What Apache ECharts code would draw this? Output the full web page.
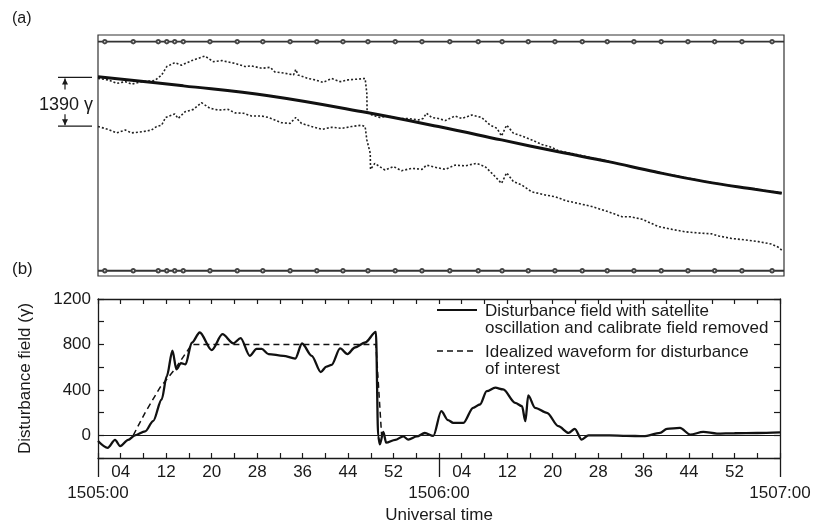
<!DOCTYPE html>
<html><head><meta charset="utf-8">
<script src="https://cdn.jsdelivr.net/npm/echarts@6/dist/echarts.min.js"></script>
<style>html,body{margin:0;padding:0;background:#fff}#c{width:814px;height:525px}</style>
</head><body><div id="c"></div>
<script>
// ---------- Panel (a): raw magnetometer traces (time in s after 1505:00, field in γ, relative) ----------
const aSolidTime  = [0, 15, 30, 47.3, 59.9, 71.0, 81.0, 89.8, 98.0, 106.8, 115.6, 120.3];
const aSolidField = [5680, 5420, 5140, 4660, 4260, 3880, 3540, 3260, 2970, 2690, 2470, 2360];

const aUpperTime  = [0,1.8,3.3,4.8,5.9,7.7,10.0,11.2,12.1,13.5,14.7,16.5,18.8,20.3,21.8,24.1,25.9,27.0,28.8,30.3,31.1,32.9,34.4,34.8,35.2,37.0,38.2,39.6,41.1,42.6,44.0,45.5,47.0,47.3,47.35,48.2,49.6,51.1,52.8,54.6,56.4,57.2,57.8,58.7,59.9,61.1,62.8,64.0,65.8,67.5,69.0,70.2,71.0,71.9,73.1,74.6,76.3,78.1,79.8,81.0,84.8,89.8,95.0,101.0,107.0,113.0,120.3];
const aUpperField = [5630,5590,5490,5540,5470,5540,5570,5730,5970,6080,6010,6140,6270,6110,6140,6060,5970,5990,5920,5950,5820,5780,5730,5890,5730,5630,5590,5520,5630,5540,5590,5610,5630,5210,4680,4590,4520,4560,4490,4490,4450,4490,4640,4520,4490,4430,4560,4490,4590,4520,4300,4210,3990,4300,4070,3990,3880,3750,3670,3570,3440,3270,3070,2880,2690,2530,2370];

const aLowerTime  = [0,1.8,3.3,4.8,5.9,7.7,9.4,10.3,11.2,11.9,13.5,14.1,15.3,16.8,18.2,19.7,21.2,22.9,24.1,25.6,27.0,28.8,30.0,30.8,32.3,33.8,34.8,35.8,37.6,39.4,41.1,42.9,44.6,46.4,47.0,47.3,47.9,47.95,48.7,50.5,52.0,53.4,55.2,57.0,57.8,59.3,61.1,62.8,64.6,66.6,68.1,69.6,71.0,71.9,73.1,74.6,76.3,78.7,80.4,81.3,82.2,84.5,86.9,89.8,92.2,93.6,95.7,98.6,101.0,103.3,106.2,108.0,109.2,111.5,113.8,116.2,118.5,119.7,120.3];
const aLowerField = [4260,4180,4080,4160,4080,4110,4160,4260,4300,4520,4620,4490,4680,4750,4940,4780,4730,4750,4650,4640,4560,4560,4520,4470,4370,4350,4520,4350,4260,4180,4240,4210,4260,4300,4260,3880,3500,3040,3210,3020,3120,3000,3070,3040,3160,3100,3040,3160,3140,3210,3120,2880,2640,2940,2690,2590,2400,2310,2260,2210,2150,2070,1980,1830,1690,1690,1620,1410,1330,1260,1220,1200,1140,1070,1030,980,910,820,740];

const railMarkTimes = [1.2,6.2,10.6,12.1,13.5,15.0,19.7,24.5,29.0,33.8,38.5,43.1,47.5,52.3,57.0,61.9,66.9,71.1,75.7,80.4,85.2,89.6,94.3,99.1,103.8,108.5,113.3,118.6];
const railLevels = [6680, 150];
const annotTop = 5660, annotSpan = 1390;
const annotText = '1390 γ';

// ---------- Panel (b): disturbance field ----------
const bTime  = [0,1.7,3.0,3.9,5.3,6.5,8.3,9.7,11.2,12.1,13.1,13.8,14.6,15.4,16.5,17.9,20.0,21.9,23.8,25.1,26.7,27.9,28.8,30.0,32.6,34.7,35.9,37.6,39.2,40.2,41.1,42.6,43.9,45.2,47.0,48.9,49.3,49.6,50.2,50.7,52.3,53.7,54.6,56.1,57.5,59.0,60.4,61.6,62.5,64.3,66.0,67.2,68.4,69.9,71.3,73.4,74.6,75.2,75.7,76.9,79.0,81.0,82.8,83.9,85.1,86.3,90.0,93.0,96.0,98.9,100.1,102.4,104.2,106.5,108.9,112.0,116.0,120.0];
const bField = [-50,-110,-40,-95,-40,0,35,125,315,520,745,580,635,625,815,905,750,890,810,855,700,760,760,715,700,675,808,700,557,605,620,765,715,773,817,910,-10,-80,30,-65,-40,-10,-38,-10,20,-5,212,133,110,110,242,271,389,419,404,286,256,124,351,242,198,80,21,57,-38,0,0,-5,-8,21,57,65,6,30,15,18,20,25];
const bIdealTime  = [6.2, 8.3, 10.9, 13.5, 15.3, 16.5, 48.9, 49.9];
const bIdealField = [0, 200, 420, 580, 713, 800, 800, 0];

const secondTickLabels = ['04','12','20','28','36','44','52'];
const minuteLabels = ['1505:00','1506:00','1507:00'];
const seriesNames = ['Disturbance field with satellite\noscillation and calibrate field removed',
                     'Idealized waveform for disturbance\nof interest'];
const yAxisTitle = 'Disturbance field (γ)';
const xAxisTitle = 'Universal time';
const panelLabels = ['(a)', '(b)'];

// ---------- build ----------
const FONT = 'Liberation Sans, Arial, Helvetica, sans-serif';
const INK = '#1a1a1a';
const zip = (a, b) => a.map((t, i) => [t, b[i]]);
const chart = echarts.init(document.getElementById('c'), null, {renderer: 'canvas'});

function railData(level) {
  return [{value: [0, level], symbol: 'none'}]
    .concat(railMarkTimes.map(t => [t, level]))
    .concat([{value: [120.7, level], symbol: 'none'}]);
}
function secLabel(t) {
  if (t <= 0 || t >= 120 || t % 60 === 0) return '';
  const s = t % 60;
  const l = secondTickLabels.find(x => Number(x) === s);
  return l || '';
}
const tickInside = (len) => ({show: true, inside: true, length: len, lineStyle: {color: INK, width: 1.2}});

const option = {
  backgroundColor: '#fff',
  animation: false,
  textStyle: {fontFamily: FONT, color: INK},
  grid: [
    {left: 98, right: 30, top: 35, height: 241, show: true, borderColor: '#333', borderWidth: 1.2},
    {left: 98, right: 34, top: 299, height: 159}
  ],
  xAxis: [
    {gridIndex: 0, type: 'value', min: 0, max: 120.7, show: false},
    {gridIndex: 1, type: 'value', min: 0, max: 120, interval: 4, position: 'bottom',
      axisLine: {onZero: false, lineStyle: {color: INK, width: 1.3}},
      axisTick: tickInside(5), splitLine: {show: false},
      axisLabel: {formatter: secLabel, margin: 6, fontSize: 17, color: INK, fontFamily: FONT,
                  showMinLabel: true, showMaxLabel: true},
      name: xAxisTitle, nameLocation: 'middle', nameGap: 49,
      nameTextStyle: {fontSize: 17, color: INK, fontFamily: FONT}},
    {gridIndex: 1, type: 'value', min: 0, max: 120, interval: 60, position: 'bottom',
      axisLine: {show: false, onZero: false},
      axisTick: {show: true, inside: false, length: 19, lineStyle: {color: INK, width: 1.3}},
      splitLine: {show: false},
      axisLabel: {formatter: v => minuteLabels[Math.round(v / 60)] || '', margin: 27, fontSize: 17, color: INK,
                  fontFamily: FONT, showMinLabel: true, showMaxLabel: true, hideOverlap: false}},
    {gridIndex: 1, type: 'value', min: 0, max: 120, interval: 4, position: 'top',
      axisLine: {onZero: false, lineStyle: {color: INK, width: 1.3}},
      axisTick: tickInside(5), axisLabel: {show: false}, splitLine: {show: false}}
  ],
  yAxis: [
    {gridIndex: 0, type: 'value', min: 0, max: 6870, show: false},
    {gridIndex: 1, type: 'value', min: -200, max: 1200, interval: 200, position: 'left',
      axisLine: {show: true, onZero: false, lineStyle: {color: INK, width: 1.3}},
      axisTick: tickInside(6), splitLine: {show: false},
      axisLabel: {formatter: v => (v >= 0 && v % 400 === 0) ? String(v) : '', margin: 7, fontSize: 17,
                  color: INK, fontFamily: FONT},
      name: yAxisTitle, nameLocation: 'middle', nameGap: 64,
      nameTextStyle: {fontSize: 17, color: INK, fontFamily: FONT}},
    {gridIndex: 1, type: 'value', min: -200, max: 1200, interval: 200, position: 'right',
      axisLine: {show: true, onZero: false, lineStyle: {color: INK, width: 1.3}},
      axisTick: tickInside(6), axisLabel: {show: false}, splitLine: {show: false}}
  ],
  series: [
    {type: 'line', xAxisIndex: 0, yAxisIndex: 0, data: railData(railLevels[0]), symbol: 'emptyCircle',
      symbolSize: 3.5, itemStyle: {color: '#444', borderWidth: 0.8},
      lineStyle: {color: '#333', width: 1.8}, silent: true},
    {type: 'line', xAxisIndex: 0, yAxisIndex: 0, data: railData(railLevels[1]), symbol: 'emptyCircle',
      symbolSize: 3.5, itemStyle: {color: '#444', borderWidth: 0.8},
      lineStyle: {color: '#333', width: 1.8}, silent: true},
    {type: 'line', xAxisIndex: 0, yAxisIndex: 0, data: zip(aUpperTime, aUpperField), symbol: 'none',
      lineStyle: {color: '#222', width: 1.6, type: [2, 2]}},
    {type: 'line', xAxisIndex: 0, yAxisIndex: 0, data: zip(aLowerTime, aLowerField), symbol: 'none',
      lineStyle: {color: '#222', width: 1.6, type: [2, 2]}},
    {type: 'line', xAxisIndex: 0, yAxisIndex: 0, data: zip(aSolidTime, aSolidField), symbol: 'none',
      smooth: 0.4, lineStyle: {color: '#111', width: 3}},
    {name: seriesNames[0], type: 'line', xAxisIndex: 1, yAxisIndex: 1, data: zip(bTime, bField), symbol: 'none',
      smooth: 0.3, smoothMonotone: 'x', lineStyle: {color: '#111', width: 2.3},
      markLine: {silent: true, symbol: 'none', label: {show: false},
                 lineStyle: {color: INK, width: 1, type: 'solid'}, data: [{yAxis: 0}]}},
    {name: seriesNames[1], type: 'line', xAxisIndex: 1, yAxisIndex: 1, data: zip(bIdealTime, bIdealField),
      symbol: 'none', lineStyle: {color: '#111', width: 1.5, type: [6, 4]}}
  ]
};
chart.setOption(option);

// annotation & labels positioned through the chart's own scales
const pTop = chart.convertToPixel({xAxisIndex: 0, yAxisIndex: 0}, [0, annotTop]);
const pBot = chart.convertToPixel({xAxisIndex: 0, yAxisIndex: 0}, [0, annotTop - annotSpan]);
const bTopY = chart.convertToPixel({xAxisIndex: 1, yAxisIndex: 1}, [0, 1200])[1];
const ax = 65, x0 = 58, x1 = pTop[0] - 6;
const yT = pTop[1], yB = pBot[1];
const lineStyle = {stroke: INK, lineWidth: 1.2};
const lgX = 437, lgY1 = bTopY + 11, lgY2 = bTopY + 52;
chart.setOption({graphic: [
  {type: 'line', shape: {x1: x0, y1: yT, x2: x1, y2: yT}, style: lineStyle},
  {type: 'line', shape: {x1: x0, y1: yB, x2: x1, y2: yB}, style: lineStyle},
  {type: 'line', shape: {x1: ax, y1: yT + 1, x2: ax, y2: yT + 12}, style: lineStyle},
  {type: 'polygon', shape: {points: [[ax, yT + 1], [ax - 3, yT + 7], [ax + 3, yT + 7]]}, style: {fill: INK}},
  {type: 'line', shape: {x1: ax, y1: yB - 1, x2: ax, y2: yB - 12}, style: lineStyle},
  {type: 'polygon', shape: {points: [[ax, yB - 1], [ax - 3, yB - 7], [ax + 3, yB - 7]]}, style: {fill: INK}},
  {type: 'text', x: x1 + 1, y: (yT + yB) / 2 + 3, style: {text: annotText, align: 'right', verticalAlign: 'middle',
    font: '18px ' + FONT, fill: INK}},
  {type: 'text', x: 12, y: 11, style: {text: panelLabels[0], font: '16px ' + FONT, fill: INK}},
  {type: 'text', x: 12, y: 261, style: {text: panelLabels[1], font: '17px ' + FONT, fill: INK}},
  // legend
  {type: 'line', shape: {x1: lgX, y1: lgY1, x2: lgX + 40, y2: lgY1}, style: {stroke: '#111', lineWidth: 2.2}},
  {type: 'text', x: lgX + 48, y: lgY1 - 7, style: {text: seriesNames[0], fontSize: 17, fontFamily: FONT, fill: INK,
    verticalAlign: 'top', lineHeight: 17}},
  {type: 'line', shape: {x1: lgX, y1: lgY2, x2: lgX + 40, y2: lgY2}, style: {stroke: '#111', lineWidth: 1.5, lineDash: [6, 4]}},
  {type: 'text', x: lgX + 48, y: lgY2 - 7, style: {text: seriesNames[1], fontSize: 17, fontFamily: FONT, fill: INK,
    verticalAlign: 'top', lineHeight: 17}}
]});
</script>
</body></html>
